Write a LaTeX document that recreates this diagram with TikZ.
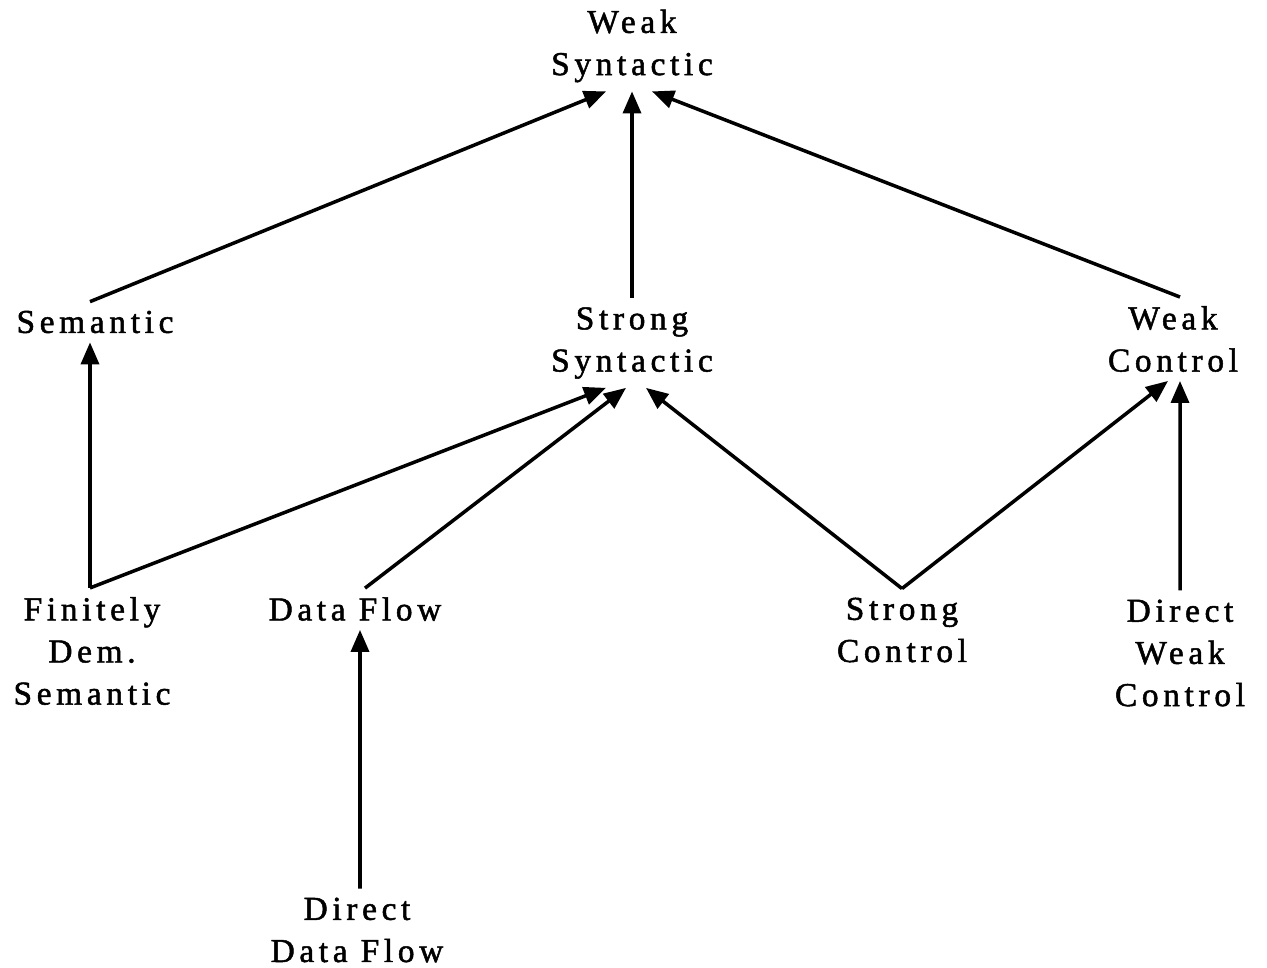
\documentclass[tikz,border=0pt]{standalone}
\usepackage{fontspec}
\setmainfont{Liberation Serif}[LetterSpace=14,FakeBold=1.5]
\usepackage{tikz}
\usetikzlibrary{arrows.meta}

\begin{document}
\begin{tikzpicture}[x=0.02cm,y=-0.02cm]
\tikzstyle{every node}=[align=center,inner sep=5pt,font=\fontsize{19}{24}\selectfont];
\tikzstyle{up}=[line width=2pt,-{Triangle[length=0.44cm,width=0.36cm]}];
\useasboundingbox (0,0) rectangle (1267,967);
% top
\node (ws) at (632,46) {Weak\\Syntactic};
% middle row
\node (sem) at (95,322) {Semantic};
\node (ss) at (632,343) {Strong\\Syntactic};
\node (wc) at (1173,339) {Weak\\Control};
% lower row
\node (fds) at (92,651) {Finitely\\Dem.\\Semantic};
\node (df) at (355,609) {Data Flow};
\node (sc) at (902,630) {Strong\\Control};
\node (dwc) at (1180,653) {Direct\\Weak\\Control};
\node (ddf) at (357,930) {Direct\\Data Flow};
% arrows
\draw[up] ([xshift=-0.1cm]sem.north) -- ([xshift=-0.52cm]ws.south);
\draw[up] (ss.north) -- (ws.south);
\draw[up] ([xshift=0.14cm]wc.north) -- ([xshift=0.4cm]ws.south);
\draw[up] ([xshift=-0.04cm]fds.north) -- ([xshift=-0.1cm]sem.south);
\draw[up] ([xshift=-0.04cm]fds.north) -- ([xshift=-0.52cm]ss.south);
\draw[up] ([xshift=0.2cm]df.north) -- ([xshift=-0.12cm]ss.south);
\draw[up] (sc.north) -- ([xshift=0.28cm]ss.south);
\draw[up] (sc.north) -- ([xshift=-0.1cm]wc.south);
\draw[up] (dwc.north) -- ([xshift=0.14cm]wc.south);
\draw[up] ([xshift=0.06cm]ddf.north) -- ([xshift=0.1cm]df.south);
\end{tikzpicture}
\end{document}
